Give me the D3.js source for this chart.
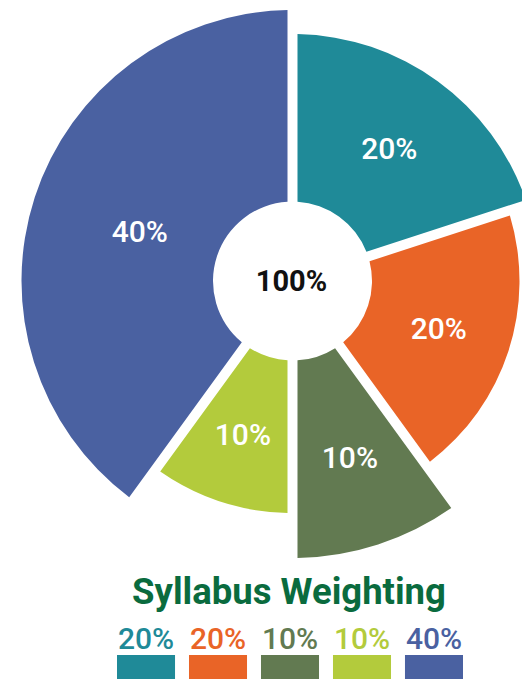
<!DOCTYPE html>
<html>
<head>
<meta charset="utf-8">
<script src="https://cdn.jsdelivr.net/npm/d3@7"></script>
<style>
  html, body { margin: 0; padding: 0; background: #fff; }
  svg { display: block; }
</style>
</head>
<body>
<div id="chart"></div>
<script>
// slice data, clockwise from 12 o'clock
const labels = ["20%", "20%", "10%", "10%", "40%"];
const weights = [20, 20, 10, 10, 40];
const outerRadii = [247, 227, 277, 232, 271];
const colors = ["#1f8a98", "#e96427", "#627a51", "#b3cb3c", "#4a61a1"];
const centerLabel = "100%";
const title = "Syllabus Weighting";

const width = 522, height = 679;
const cx = 292.5, cy = 281;
const innerRadius = 79.5;

const svg = d3.select("#chart").append("svg")
  .attr("width", width)
  .attr("height", height);

const g = svg.append("g")
  .attr("transform", `translate(${cx},${cy})`);

const pie = d3.pie().sort(null).value(d => d)(weights);

// gap between slices is ~10px wide
const arc = d3.arc()
  .innerRadius(innerRadius)
  .outerRadius(d => outerRadii[d.index])
  .padAngle(0.1)
  .padRadius(100);

g.selectAll("path.slice")
  .data(pie)
  .enter()
  .append("path")
  .attr("class", "slice")
  .attr("d", arc)
  .attr("fill", d => colors[d.index]);

// label radius: halfway between the mid radius and the area centroid of the sector
function labelRadius(d) {
  const r0 = innerRadius, r1 = outerRadii[d.index];
  const half = (d.endAngle - d.startAngle) / 2;
  const areaR = (2 / 3) * (r1 ** 3 - r0 ** 3) / (r1 ** 2 - r0 ** 2) * Math.sin(half) / half;
  return ((r0 + r1) / 2 + areaR) / 2;
}

g.selectAll("text.slice-label")
  .data(pie)
  .enter()
  .append("text")
  .attr("class", "slice-label")
  .attr("transform", d => {
    const r = labelRadius(d);
    const a = (d.startAngle + d.endAngle) / 2;
    return `translate(${Math.sin(a) * r},${-Math.cos(a) * r})`;
  })
  .attr("text-anchor", "middle")
  .attr("dy", "0.36em")
  .attr("font-family", "Roboto, sans-serif")
  .attr("font-weight", 500)
  .attr("font-size", "30px")
  .attr("fill", "#fff")
  .text(d => labels[d.index]);

g.append("text")
  .attr("x", -1)
  .attr("y", 0)
  .attr("dy", "0.36em")
  .attr("text-anchor", "middle")
  .attr("font-family", "Roboto, sans-serif")
  .attr("font-weight", 700)
  .attr("font-size", "29px")
  .attr("fill", "#111")
  .text(centerLabel);

// title + legend
svg.append("text")
  .attr("x", 289)
  .attr("y", 604)
  .attr("text-anchor", "middle")
  .attr("font-family", "Roboto, sans-serif")
  .attr("font-weight", 700)
  .attr("font-size", "36.5px")
  .attr("fill", "#0a6b3e")
  .text(title);

const x = d3.scaleBand()
  .domain(d3.range(labels.length))
  .range([117, 463])
  .paddingInner(0.194)
  .paddingOuter(0);

const legend = svg.selectAll("g.legend")
  .data(labels)
  .enter()
  .append("g")
  .attr("class", "legend")
  .attr("transform", (d, i) => `translate(${x(i)},0)`);

legend.append("text")
  .attr("x", x.bandwidth() / 2)
  .attr("y", 649)
  .attr("text-anchor", "middle")
  .attr("font-family", "Roboto, sans-serif")
  .attr("font-weight", 500)
  .attr("font-size", "30px")
  .attr("fill", (d, i) => colors[i])
  .text(d => d);

legend.append("rect")
  .attr("x", 0)
  .attr("y", 655)
  .attr("width", x.bandwidth())
  .attr("height", 24)
  .attr("fill", (d, i) => colors[i]);
</script>
</body>
</html>
